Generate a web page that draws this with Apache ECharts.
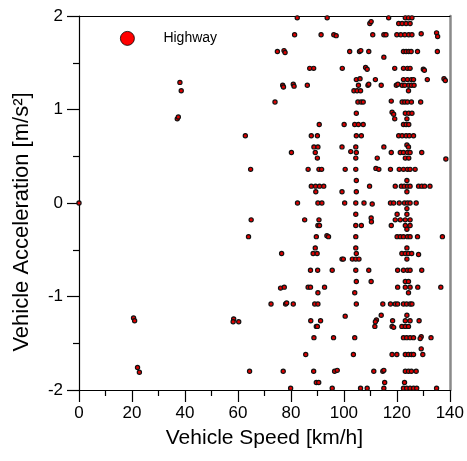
<!DOCTYPE html>
<html>
<head>
<meta charset="utf-8">
<script src="https://cdn.jsdelivr.net/npm/echarts@6/dist/echarts.min.js"></script>
<style>
html,body{margin:0;padding:0;background:#fff;}
#chart{width:467px;height:461px;}
</style>
</head>
<body>
<div id="chart"></div>
<script>
// Axis ticks
const xTicks = [0, 20, 40, 60, 80, 100, 120, 140];
const yTicks = [-2, -1, 0, 1, 2];
const seriesName = 'Highway';

// [speed km/h, acceleration m/s^2]
const leftCluster = [
  [0,0],[37.1,0.90],[37.5,0.92],[38.1,1.29],[38.6,1.20],
  [20.6,-1.23],[21.0,-1.26],[22.1,-1.76],[22.8,-1.81]
];
const bandTop = [
  [82.4,1.98],[93.7,1.98],[81.4,1.80],[91.4,1.80],[96.2,1.80],[97.1,1.79],
  [74.9,1.62],[77.4,1.63],[77.8,1.61],[87.1,1.44],[88.6,1.44],[99.4,1.44],
  [76.9,1.26],[77.2,1.24],[80.9,1.27],[81.2,1.25],[86.2,1.26],[74.0,1.08],
  [90.7,0.84],[62.8,0.72],[87.7,0.72],[90.0,0.72],
  [116.9,1.98],[123.2,1.98],[124.4,1.98],[125.7,1.98],
  [109.8,1.92],[110.3,1.94],[120.7,1.92],[122.0,1.92],[123.5,1.92],[125.0,1.92],
  [110.9,1.80],[115.1,1.80],[115.9,1.80],[120.0,1.80],[121.5,1.80],[123.0,1.80],[124.5,1.80],[125.7,1.80],[129.2,1.81],[135.0,1.82],[135.4,1.78],
  [102.2,1.62],[105.9,1.62],[106.4,1.63],[109.4,1.62],[115.1,1.56],[122.5,1.62],[123.5,1.62],[124.5,1.62],[125.4,1.62],[127.8,1.62],[135.3,1.62],
  [108.2,1.45],[108.8,1.43],[119.2,1.44],[122.5,1.44],[124.0,1.44],[125.0,1.44],[130.0,1.43],[130.4,1.42],
  [104.7,1.32],[106.1,1.33],[111.9,1.32],[122.5,1.32],[124.0,1.32],[125.5,1.32],[126.3,1.32],[131.5,1.32],[137.8,1.33],[138.3,1.31],
  [105.5,1.26],[109.1,1.26],[109.4,1.27],[114.1,1.26],[119.8,1.26],[120.4,1.27],[122.0,1.26],[123.0,1.26],[124.5,1.26],[125.5,1.26],[126.5,1.26],
  [103.8,1.20],[105.0,1.20],[106.3,1.20],[124.4,1.20],
  [105.3,1.08],[106.5,1.08],[107.3,1.08],[117.9,1.09],[122.0,1.08],[123.0,1.08],[124.0,1.08],[125.5,1.08],[129.0,1.08],
  [104.7,0.96],[118.2,0.97],[118.8,0.95],[123.2,0.96],[124.5,0.96],[125.7,0.96],
  [119.2,0.90],[123.8,0.90],
  [100.1,0.84],[104.1,0.84],[105.5,0.84],[107.3,0.84],[122.5,0.84],[123.5,0.84],[124.5,0.84],
  [104.7,0.72],[106.6,0.72],[120.7,0.72],[122.0,0.72],[123.5,0.72],[124.7,0.72],[126.3,0.72]
];
const bandMid = [
  [88.7,0.60],[90.2,0.60],[99.3,0.60],[80.2,0.54],[89.2,0.54],[90.0,0.48],
  [64.8,0.36],[86.5,0.36],[90.6,0.36],[91.6,0.36],
  [87.7,0.18],[89.3,0.18],[90.8,0.18],[92.4,0.18],[89.4,0.12],[99.3,0.12],
  [82.5,0.0],[90.2,0.0],[91.7,0.0],
  [65.0,-0.18],[85.2,-0.18],[90.6,-0.18],[90.2,-0.24],[90.8,-0.24],
  [64.0,-0.36],[89.6,-0.36],[93.6,-0.35],[94.2,-0.36],[89.2,-0.48],
  [76.5,-0.54],[88.4,-0.54],[89.9,-0.54],[99.3,-0.60],
  [104.5,0.60],[115.1,0.60],[123.8,0.62],[124.4,0.60],
  [102.6,0.55],[104.7,0.54],[117.9,0.54],[121.3,0.54],[122.5,0.54],[124.0,0.54],[125.0,0.54],[129.4,0.54],
  [104.5,0.48],[112.6,0.48],[123.2,0.48],[124.5,0.48],[138.5,0.47],
  [100.5,0.36],[104.5,0.36],[112.1,0.37],[113.2,0.36],[117.6,0.36],[120.9,0.36],[122.5,0.36],[124.0,0.36],[125.0,0.36],[126.9,0.36],
  [104.7,0.24],[123.8,0.24],
  [109.7,0.18],[119.4,0.18],[121.7,0.18],[122.8,0.18],[124.0,0.18],[125.0,0.18],[128.2,0.18],[129.4,0.18],[130.5,0.18],[132.5,0.18],
  [104.7,0.12],[123.8,0.12],
  [100.3,0.0],[104.5,0.0],[107.6,0.0],[110.7,-0.01],[117.6,0.0],[118.8,0.0],[120.9,0.0],[122.9,0.0],[124.0,0.0],[125.0,0.0],[127.3,0.0],
  [123.8,-0.06],
  [104.5,-0.12],[110.3,-0.16],[110.4,-0.20],[120.1,-0.12],[123.8,-0.12],
  [119.4,-0.18],[121.3,-0.18],[123.2,-0.18],[125.0,-0.18],
  [104.5,-0.24],[106.6,-0.24],[117.9,-0.24],[123.2,-0.24],[125.0,-0.24],[123.8,-0.28],
  [104.5,-0.36],[120.1,-0.36],[121.3,-0.36],[122.5,-0.36],[124.0,-0.36],[125.0,-0.36],[127.8,-0.36],[137.2,-0.36],
  [104.5,-0.48],[123.8,-0.48],
  [104.7,-0.54],[121.9,-0.54],[123.2,-0.54],[124.4,-0.54],[125.6,-0.54],[128.2,-0.55],
  [99.8,-0.60],[103.2,-0.60],[104.5,-0.60],[105.7,-0.60],[123.8,-0.60]
];
const bandBottom = [
  [87.4,-0.72],[90.1,-0.72],[95.6,-0.72],
  [76.1,-0.91],[77.5,-0.90],[86.5,-0.90],[87.4,-0.90],[92.7,-0.90],[90.2,-0.96],
  [72.5,-1.08],[78.0,-1.08],[78.4,-1.07],[80.9,-1.08],[89.0,-1.08],[90.2,-1.08],
  [58.4,-1.24],[58.2,-1.27],[60.3,-1.27],[87.5,-1.26],[91.2,-1.26],[89.6,-1.32],[90.0,-1.32],
  [88.7,-1.44],[96.1,-1.44],[85.6,-1.62],
  [64.4,-1.80],[77.1,-1.80],[88.6,-1.80],[96.5,-1.80],[97.5,-1.79],
  [89.6,-1.92],[90.5,-1.92],[79.9,-1.98],[95.6,-1.98],
  [104.5,-0.72],[109.4,-0.72],[120.3,-0.72],[122.5,-0.72],[124.0,-0.72],[125.0,-0.72],[129.4,-0.72],
  [104.7,-0.84],[110.3,-0.84],[123.2,-0.84],[124.4,-0.84],
  [120.3,-0.90],[123.2,-0.90],[125.0,-0.90],[127.9,-0.90],[136.6,-0.90],
  [104.1,-0.96],[124.4,-0.96],
  [104.7,-1.08],[114.7,-1.08],[117.6,-1.08],[119.4,-1.08],[120.3,-1.08],[122.5,-1.08],[123.7,-1.08],[125.0,-1.08],[125.7,-1.08],
  [100.5,-1.21],[114.1,-1.20],[123.8,-1.20],
  [112.3,-1.25],[111.9,-1.27],[118.4,-1.26],[123.2,-1.26],[125.0,-1.26],[128.4,-1.26],
  [111.7,-1.32],[118.2,-1.32],[118.8,-1.33],[121.9,-1.32],[123.2,-1.32],[124.4,-1.32],
  [104.1,-1.44],[122.5,-1.44],[123.7,-1.44],[125.0,-1.44],[126.3,-1.44],[129.2,-1.43],[128.8,-1.45],[132.9,-1.44],
  [129.2,-1.56],
  [103.6,-1.62],[118.2,-1.62],[120.0,-1.62],[123.2,-1.62],[124.4,-1.62],[125.5,-1.62],[126.3,-1.62],[129.8,-1.62],
  [111.3,-1.80],[114.7,-1.80],[115.1,-1.79],[123.2,-1.80],[124.4,-1.80],[125.5,-1.80],[127.3,-1.80],
  [115.4,-1.92],[122.9,-1.92],
  [106.3,-1.98],[108.8,-1.98],[115.1,-1.98],[122.5,-1.98],[123.7,-1.98],[125.0,-1.98],[126.3,-1.98],[127.5,-1.98],[135.0,-1.98]
];

const allPoints = [].concat(leftCluster, bandTop, bandMid, bandBottom);
const FONT = '"Liberation Sans", Arial, sans-serif';

const chart = echarts.init(document.getElementById('chart'), null, {renderer: 'canvas'});
chart.setOption({
  animation: false,
  backgroundColor: '#ffffff',
  textStyle: {fontFamily: FONT, color: '#000'},
  grid: {left: 79, right: 14, top: 16, bottom: 71, containLabel: false},
  legend: {
    show: true,
    left: 115, top: 26,
    icon: 'circle',
    itemWidth: 14, itemHeight: 14,
    itemGap: 0,
    itemStyle: {color: '#ff0000', borderColor: '#000', borderWidth: 0.8},
    textStyle: {fontFamily: FONT, fontSize: 14, color: '#000', padding: [0, 0, 0, 24]},
    data: [seriesName]
  },
  xAxis: [{
    type: 'value', min: xTicks[0], max: xTicks[xTicks.length - 1], interval: 20,
    position: 'bottom',
    axisLine: {show: true, onZero: false, lineStyle: {color: '#000', width: 1.2}},
    axisTick: {show: true, inside: false, length: 12, lineStyle: {color: '#000', width: 1.2}},
    minorTick: {show: true, splitNumber: 2, length: 6, lineStyle: {color: '#000', width: 1.2}},
    splitLine: {show: false},
    axisLabel: {fontSize: 17, color: '#000', fontFamily: FONT, margin: 15},
    name: 'Vehicle Speed [km/h]', nameLocation: 'middle', nameGap: 38,
    nameTextStyle: {fontSize: 21, color: '#000', fontFamily: FONT}
  }, {
    type: 'value', min: 0, max: 140, position: 'top',
    axisLine: {show: true, onZero: false, lineStyle: {color: '#000', width: 1.2}},
    axisTick: {show: false}, axisLabel: {show: false}, splitLine: {show: false}
  }],
  yAxis: [{
    type: 'value', min: yTicks[0], max: yTicks[yTicks.length - 1], interval: 1,
    position: 'left',
    axisLine: {show: true, onZero: false, lineStyle: {color: '#000', width: 1.2}},
    axisTick: {show: true, inside: false, length: 12, lineStyle: {color: '#000', width: 1.2}},
    minorTick: {show: true, splitNumber: 2, length: 6, lineStyle: {color: '#000', width: 1.2}},
    splitLine: {show: false},
    axisLabel: {fontSize: 17, color: '#000', fontFamily: FONT, margin: 16},
    name: 'Vehicle Acceleration [m/s²]', nameLocation: 'middle', nameGap: 46,
    nameRotate: 90,
    nameTextStyle: {fontSize: 22, color: '#000', fontFamily: FONT, padding: [0, 38, 0, 0]}
  }, {
    type: 'value', min: -2, max: 2, position: 'right',
    axisLine: {show: true, onZero: false, lineStyle: {color: '#8a8a8a', width: 2.5}},
    axisTick: {show: false}, axisLabel: {show: false}, splitLine: {show: false}
  }],
  series: [{
    name: seriesName,
    type: 'scatter',
    xAxisIndex: 0, yAxisIndex: 0,
    symbol: 'circle',
    symbolSize: 4.2,
    itemStyle: {color: '#e00000', borderColor: '#111', borderWidth: 1.2, opacity: 1},
    data: allPoints,
    clip: false,
    z: 3
  }]
});
</script>
</body>
</html>
